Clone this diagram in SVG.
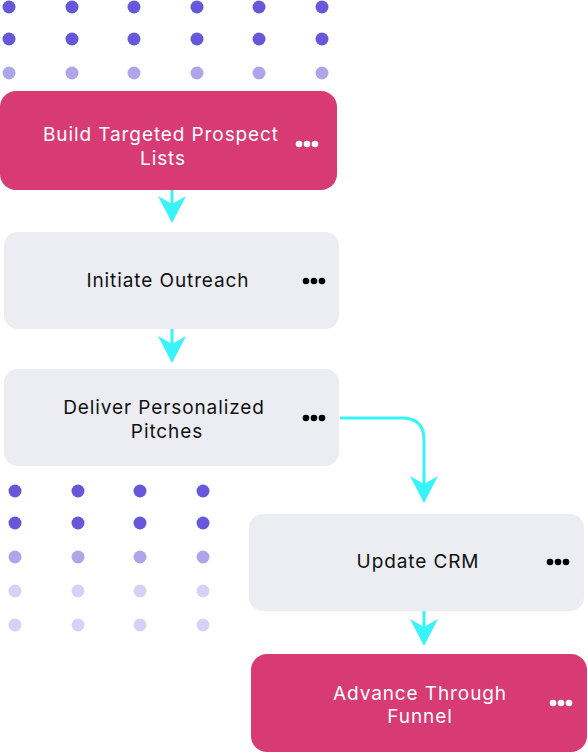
<svg xmlns="http://www.w3.org/2000/svg" width="588" height="753" viewBox="0 0 588 753">
<style>
.dk{fill:#6657DB}.md{fill:#AFA6EA}.lt{fill:#D6D2F5}
.pink{fill:#D83B73}.grey{fill:#ECEDF3}
.tw{font-family:Inter,"Open Sans",sans-serif;font-size:19px;letter-spacing:0.9px;fill:#FFFFFF;text-anchor:middle}
.tb{font-family:Inter,"Open Sans",sans-serif;font-size:19px;letter-spacing:0.9px;fill:#111111;text-anchor:middle}
.conn{fill:none;stroke:#38F3F8;stroke-width:3}
.head{fill:#38F3F8}
</style>
<defs>
<path id="ah" d="M0,0 L-14,-27 L0,-19 L14,-27 Z"/>
<g id="dotsW"><circle cx="0" cy="0" r="3.3"/><circle cx="8" cy="0" r="3.3"/><circle cx="16" cy="0" r="3.3"/></g>
</defs>
<g id="dots-top">
<g class="dk"><circle cx="9" cy="7" r="6.5"/><circle cx="72" cy="7" r="6.5"/><circle cx="134" cy="7" r="6.5"/><circle cx="197" cy="7" r="6.5"/><circle cx="259" cy="7" r="6.5"/><circle cx="322" cy="7" r="6.5"/>
<circle cx="9" cy="39" r="6.5"/><circle cx="72" cy="39" r="6.5"/><circle cx="134" cy="39" r="6.5"/><circle cx="197" cy="39" r="6.5"/><circle cx="259" cy="39" r="6.5"/><circle cx="322" cy="39" r="6.5"/></g>
<g class="md"><circle cx="9" cy="73" r="6.5"/><circle cx="72" cy="73" r="6.5"/><circle cx="134" cy="73" r="6.5"/><circle cx="197" cy="73" r="6.5"/><circle cx="259" cy="73" r="6.5"/><circle cx="322" cy="73" r="6.5"/></g>
</g>
<g id="dots-bottom">
<g class="dk"><circle cx="15" cy="491" r="6.5"/><circle cx="78" cy="491" r="6.5"/><circle cx="140" cy="491" r="6.5"/><circle cx="203" cy="491" r="6.5"/>
<circle cx="15" cy="523" r="6.5"/><circle cx="78" cy="523" r="6.5"/><circle cx="140" cy="523" r="6.5"/><circle cx="203" cy="523" r="6.5"/></g>
<g class="md"><circle cx="15" cy="557" r="6.5"/><circle cx="78" cy="557" r="6.5"/><circle cx="140" cy="557" r="6.5"/><circle cx="203" cy="557" r="6.5"/></g>
<g class="lt"><circle cx="15" cy="591" r="6.5"/><circle cx="78" cy="591" r="6.5"/><circle cx="140" cy="591" r="6.5"/><circle cx="203" cy="591" r="6.5"/>
<circle cx="15" cy="625" r="6.5"/><circle cx="78" cy="625" r="6.5"/><circle cx="140" cy="625" r="6.5"/><circle cx="203" cy="625" r="6.5"/></g>
</g>
<g id="connectors">
<path class="conn" d="M172,190 V205"/><use href="#ah" class="head" x="172" y="223"/>
<path class="conn" d="M172,329 V345"/><use href="#ah" class="head" x="172" y="363"/>
<path class="conn" d="M340,418 H402 Q424,418 424,440 V485"/><use href="#ah" class="head" x="424" y="503"/>
<path class="conn" d="M424,611 V628"/><use href="#ah" class="head" x="424" y="646"/>
</g>
<g id="node1">
<rect class="pink" x="0" y="91" width="337" height="99" rx="16"/>
<text class="tw" x="161" y="141">Build Targeted Prospect</text>
<text class="tw" x="163" y="165">Lists</text>
<use href="#dotsW" x="299" y="144" fill="#FFFFFF"/>
</g>
<g id="node2">
<rect class="grey" x="4" y="232" width="335" height="97" rx="14"/>
<text class="tb" x="168" y="287">Initiate Outreach</text>
<use href="#dotsW" x="306" y="281" fill="#000000"/>
</g>
<g id="node3">
<rect class="grey" x="4" y="369" width="335" height="97" rx="14"/>
<text class="tb" x="164" y="414">Deliver Personalized</text>
<text class="tb" x="167" y="438">Pitches</text>
<use href="#dotsW" x="306" y="418" fill="#000000"/>
</g>
<g id="node4">
<rect class="grey" x="249" y="514" width="335" height="97" rx="14"/>
<text class="tb" x="418" y="568">Update CRM</text>
<use href="#dotsW" x="550" y="562" fill="#000000"/>
</g>
<g id="node5">
<rect class="pink" x="251" y="654" width="336" height="98" rx="16"/>
<text class="tw" x="420" y="700">Advance Through</text>
<text class="tw" x="420" y="723">Funnel</text>
<use href="#dotsW" x="553" y="703" fill="#FFFFFF"/>
</g>
</svg>
